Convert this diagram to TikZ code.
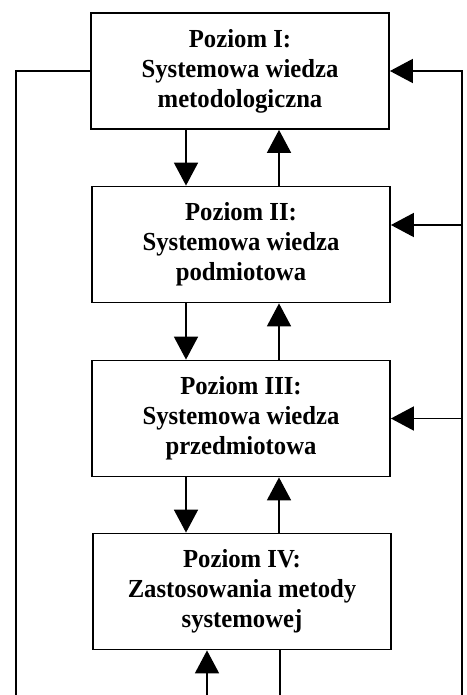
\documentclass[tikz,border=0pt]{standalone}
\usepackage{fontspec}
\setmainfont{Liberation Serif}[FakeStretch=0.95]
\usetikzlibrary{arrows.meta}
\begin{document}
\begin{tikzpicture}[x=1pt,y=-1pt,
  box/.style={draw,line width=1.8pt,minimum width=298pt,minimum height=116pt,
    inner sep=0pt,align=center,font=\fontsize{26}{30}\selectfont\bfseries},
  link/.style={line width=1.8pt},
  arr/.style={line width=1.8pt,-{Triangle[length=23pt,width=24pt]}}]
  \useasboundingbox (0,0) rectangle (466,695);
  \fill[white] (0,0) rectangle (466,695);

  % the four levels
  \node[box] (p1) at (240,71)  {Poziom I:\\Systemowa wiedza\\metodologiczna};
  \node[box] (p2) at (241,244.5) {Poziom II:\\Systemowa wiedza\\podmiotowa};
  \node[box] (p3) at (241,418.5) {Poziom III:\\Systemowa wiedza\\przedmiotowa};
  \node[box] (p4) at (242,591.5) {Poziom IV:\\Zastosowania metody\\systemowej};

  % helper columns and rows
  \coordinate (dn) at (186,0);
  \coordinate (up) at (279,0);
  \coordinate (lb) at (16,695);
  \coordinate (rb) at (462,695);
  \coordinate (r2) at (462,225);
  \coordinate (r3) at (462,418.5);
  \coordinate (b4) at (207,695);
  \coordinate (b5) at (280,695);

  % links between neighbouring levels
  \draw[arr] (p1.south -| dn) -- (p2.north -| dn);
  \draw[arr] (p2.north -| up) -- (p1.south -| up);
  \draw[arr] (p2.south -| dn) -- (p3.north -| dn);
  \draw[arr] (p3.north -| up) -- (p2.south -| up);
  \draw[arr] (p3.south -| dn) -- (p4.north -| dn);
  \draw[arr] (p4.north -| up) -- (p3.south -| up);

  % outer feedback loops
  \draw[link] (p1.west) -| (lb);
  \draw[arr] (rb) |- (p1.east);
  \draw[arr] (r2) -- (r2 -| p2.east);
  \draw[arr] (r3) -- (r3 -| p3.east);
  \draw[arr] (b4) -- (b4 |- p4.south);
  \draw[link] (p4.south -| b5) -- (b5);
\end{tikzpicture}
\end{document}
